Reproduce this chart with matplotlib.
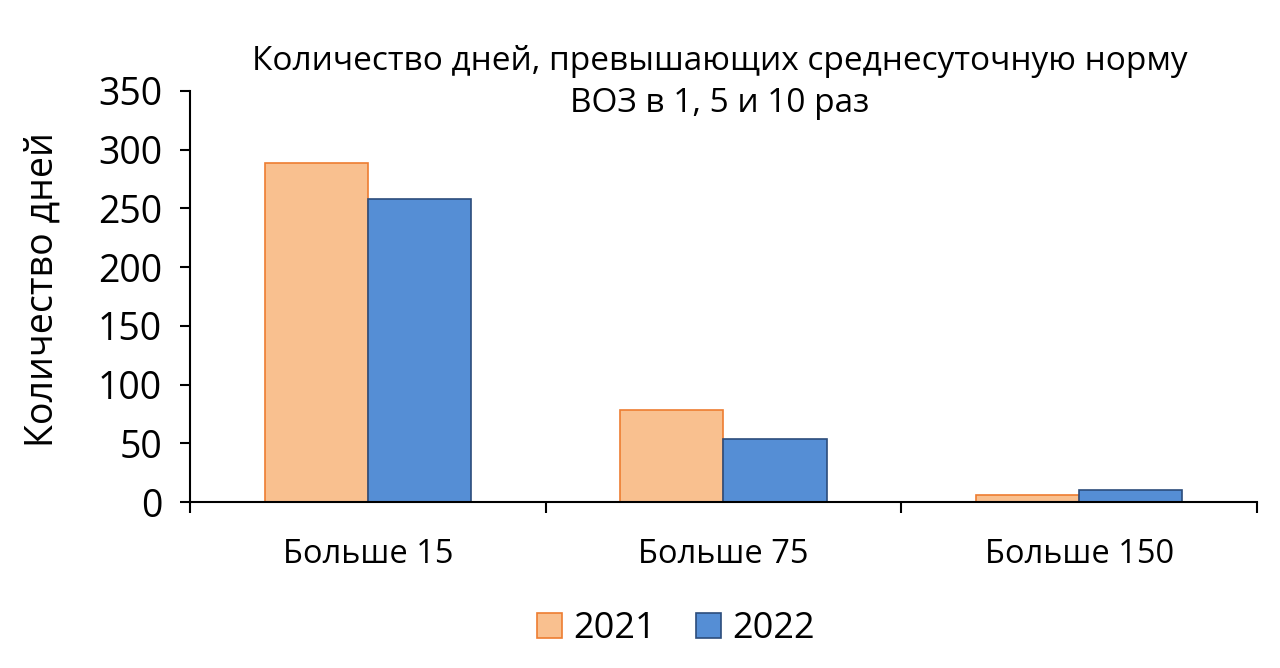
import numpy as np
import matplotlib as mpl
import matplotlib.pyplot as plt
from matplotlib.ticker import FixedLocator

mpl.rcParams["font.family"] = ["Open Sans", "DejaVu Sans"]

categories = ["Больше 15", "Больше 75", "Больше 150"]
years = ["2021", "2022"]
values_2021 = [289, 78, 6]
values_2022 = [258, 54, 10]
y_ticks = [0, 50, 100, 150, 200, 250, 300, 350]

fig = plt.figure(figsize=(12.8, 6.68), dpi=100)
ax = fig.add_axes([0.1484, 0.2485, 0.8336, 0.6153])

x = np.arange(len(categories))
w = 0.29
ax.bar(x - w / 2, values_2021, w, color="#F9C08F", edgecolor="#ED7D31",
       linewidth=1.2, label=years[0])
ax.bar(x + w / 2, values_2022, w, color="#558ED5", edgecolor="#2C4D7C",
       linewidth=1.2, label=years[1])

ax.set_xlim(-0.5, len(categories) - 0.5)
ax.set_ylim(0, 350)
ax.set_yticks(y_ticks)
ax.set_xticks(x)
ax.set_xticklabels(categories, fontsize=23.5)
ax.xaxis.set_minor_locator(FixedLocator(np.arange(-0.5, len(categories), 1.0)))
ax.tick_params(axis="x", which="major", length=0, pad=26)
ax.tick_params(axis="x", which="minor", length=8, width=1.5, direction="out")
ax.tick_params(axis="y", length=7, width=1.5, labelsize=27, pad=13)

for s in ["top", "right"]:
    ax.spines[s].set_visible(False)
ax.spines["left"].set_linewidth(1.5)
ax.spines["bottom"].set_linewidth(1.5)

ax.set_ylabel("Количество дней", fontsize=27)
ax.yaxis.set_label_coords(-0.12, 0.518)
fig.text(0.5625, 0.877, "Количество дней, превышающих среднесуточную норму\nВОЗ в 1, 5 и 10 раз",
         ha="center", va="center", fontsize=24, linespacing=1.35)

fig.legend(loc="center", bbox_to_anchor=(0.528, 0.058), ncol=2, frameon=False,
           fontsize=26, handlelength=0.7, handleheight=0.7, columnspacing=1.1,
           handletextpad=0.3)

fig.savefig("out.png", dpi=100)
plt.close(fig)
